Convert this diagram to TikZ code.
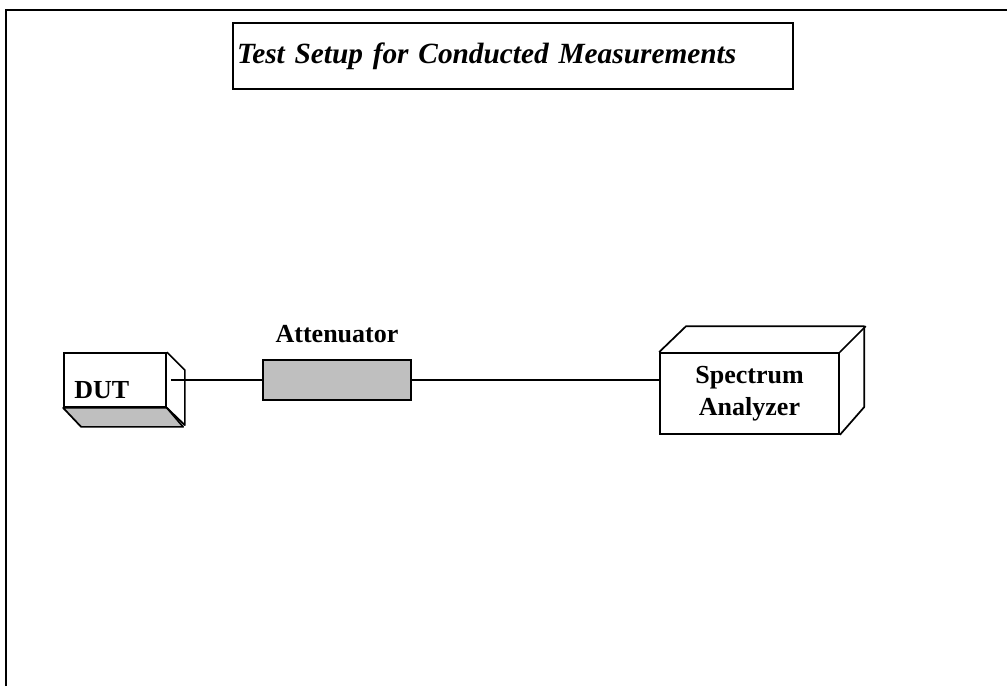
\documentclass[tikz,border=0pt]{standalone}
\usepackage{fontspec}
\setmainfont{Liberation Serif}
\usetikzlibrary{positioning, calc}
\tikzset{
  frame/.style={draw=black, line width=1.4pt},
  titlebox/.style={rectangle, draw=black, line width=1.3pt, minimum width=420pt,
                   minimum height=49.5pt, text width=414pt, inner xsep=3pt,
                   align=left, font=\fontsize{22}{26}\selectfont\bfseries\itshape},
  face/.style={rectangle, draw=black, line width=1.3pt, fill=white, inner sep=0pt},
  side/.style={draw=black, line width=1.3pt, line join=round},
  attbox/.style={rectangle, draw=black, line width=1.3pt, fill=black!25,
                 minimum width=111pt, minimum height=30pt, inner sep=0pt},
  lbl/.style={font=\fontsize{19.5}{24}\selectfont\bfseries, inner sep=0pt},
  wire/.style={draw=black, line width=1pt},
}

\begin{document}
\begin{tikzpicture}[x=0.75pt, y=-0.75pt]
  \useasboundingbox (0,0) rectangle (1007,686);
  % Frame
  \draw[frame] (6,686) -- (6,10) -- (1007,10);

  % Title
  \node[titlebox] (title) at (513,56) {Test Setup for Conducted Measurements};

  % Nodes
  \node[face, minimum width=76.5pt, minimum height=40.5pt] (dut) at (115,380) {};
  \node[attbox] (att) at (337,380) {};
  \node[face, lbl, minimum width=134.25pt, minimum height=60.75pt, align=center]
    (sa) at (749.5,393.5) {Spectrum\\Analyzer};

  % DUT sides (seen from below)
  \filldraw[side, fill=black!25] (dut.south west) -- ++(18,19) -- ++(102,0) -- (dut.south east) -- cycle;
  \draw[side] (dut.north east) -- ++(18,18) -- ++(0,55) -- (dut.south east);

  % Analyzer sides (seen from above)
  \draw[side] (sa.north west) -- ++(27,-26) -- ++(178,0) -- ++(0,81) -- (sa.south east);
  \draw[side] (sa.north east) -- ++(26,-26);

  % Labels
  \node[lbl, anchor=base west] (dutlbl) at ([shift={(11,-9)}]dut.south west) {DUT};
  \node[lbl, anchor=base] (attlbl) at ([yshift=12.75pt]att.north) {Attenuator};

  % Edges
  \draw[wire] ([xshift=3pt]dut.east) -- (dut.east -| att.west);
  \draw[wire] (att.east) -- (att.east -| sa.west);

\end{tikzpicture}
\end{document}
